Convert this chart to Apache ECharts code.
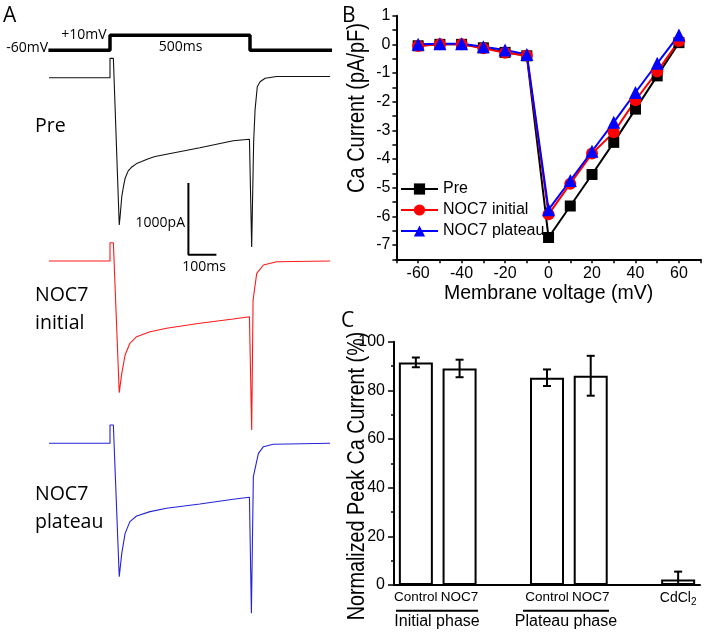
<!DOCTYPE html>
<html><head><meta charset="utf-8">
<script src="https://cdn.jsdelivr.net/npm/echarts@6/dist/echarts.min.js"></script>
<style>html,body{margin:0;padding:0;background:#fff}#chart{width:705px;height:634px}</style>
</head><body><div id="chart"></div>
<script>
// ---------- Panel A: voltage protocol ----------
const stepTime = [-220, 0, 0, 500, 500, 793];
const stepVoltage = [-60, -60, 10, 10, -60, -60];

// ---------- Panel A: current traces (ms, pA relative to holding) ----------
const preTime = [-218, 0, 0, 12, 33, 36, 42, 48, 54, 65, 78, 95, 113, 137, 161, 202, 321, 440, 498, 506, 513, 518, 526, 536, 554, 595, 786];
const preCurrent = [0, 0, 270, 270, -2055, -1939, -1660, -1521, -1403, -1300, -1245, -1198, -1170, -1130, -1100, -1068, -976, -879, -859, -2360, -900, -453, -126, -56, -8, 17, 17];

const initialTime = [-218, 0, 0, 12, 33, 42, 54, 71, 95, 143, 202, 321, 440, 498, 506, 511, 524, 548, 595, 786];
const initialCurrent = [0, 0, 255, 255, -1837, -1567, -1311, -1148, -1056, -986, -939, -869, -809, -777, -2358, -544, -172, -56, -10, 0];

const plateauTime = [-218, 0, 0, 12, 33, 42, 54, 71, 95, 143, 202, 321, 440, 498, 505, 512, 530, 548, 583, 786];
const plateauCurrent = [0, 0, 255, 255, -1860, -1535, -1256, -1093, -1014, -953, -907, -847, -781, -753, -2372, -465, -140, -47, -14, 0];

// scale bar: 1000 pA / 100 ms
const scaleBarTime = [280, 280, 380];
const scaleBarCurrent = [-1470, -2470, -2470];

// ---------- Panel B: I-V ----------
const ivVoltage = [-60, -50, -40, -30, -20, -10, 0, 10, 20, 30, 40, 50, 60];
const ivPre = [-0.05, 0, 0, -0.12, -0.28, -0.40, -6.74, -5.64, -4.54, -3.42, -2.26, -1.10, 0.06];
const ivInitial = [-0.06, 0, 0, -0.14, -0.29, -0.39, -5.93, -4.86, -3.81, -3.07, -1.95, -0.95, 0.12];
const ivPlateau = [0, 0.02, 0.02, -0.08, -0.20, -0.35, -5.77, -4.75, -3.73, -2.72, -1.68, -0.66, 0.33];
const ivNames = ['Pre', 'NOC7 initial', 'NOC7 plateau'];

// ---------- Panel C: normalized peak ----------
const barCategories = ['Control', 'NOC7', '', 'Control', 'NOC7', '', 'CdCl2'];
const barValues = [91.5, 89.0, null, 85.2, 86.0, null, 2.3];
const barErrors = [2.0, 3.6, null, 3.4, 8.2, null, 3.2];
const groupLabels = ['Initial phase', 'Plateau phase'];

const RF = 'Liberation Sans';
const AF = 'Open Sans';

const zip = (a, b) => a.map((v, i) => [v, b[i]]);

const chart = echarts.init(document.getElementById('chart'), null, {renderer: 'canvas'});

const hiddenX = (g) => ({type: 'value', gridIndex: g, min: -250, max: 800, show: false});
const traceY = (g) => ({type: 'value', gridIndex: g, min: -2500, max: 500, show: false});

const errorData = [];
barValues.forEach((v, i) => { if (v != null) errorData.push([i, v - barErrors[i], v + barErrors[i]]); });

const option = {
  animation: false,
  backgroundColor: '#fff',
  grid: [
    {left: 40, top: 33.2, width: 294, height: 21.43},
    {left: 40, top: 41.86, width: 294, height: 215.05},
    {left: 40, top: 225.16, width: 294, height: 215.05},
    {left: 40, top: 407.46, width: 294, height: 215.05},
    {left: 396.4, top: 15.7, width: 304.3, height: 243.6},
    {left: 394, top: 341.7, width: 306, height: 243.3}
  ],
  xAxis: [
    hiddenX(0), hiddenX(1), hiddenX(2), hiddenX(3),
    {
      type: 'value', gridIndex: 4, min: -70, max: 70, interval: 10,
      axisLine: {onZero: false, lineStyle: {color: '#000', width: 2}},
      axisTick: {length: 4, lineStyle: {color: '#000', width: 1.5}},
      splitLine: {show: false},
      axisLabel: {margin: 6, color: '#000', fontSize: 16, fontFamily: RF,
        formatter: v => (v % 20 === 0 && Math.abs(v) <= 60) ? String(v) : ''},
      name: 'Membrane voltage (mV)', nameLocation: 'middle', nameGap: 24,
      nameTextStyle: {color: '#000', fontSize: 19.5, fontFamily: RF}
    },
    {
      type: 'category', gridIndex: 5, data: barCategories, boundaryGap: true,
      axisLine: {lineStyle: {color: '#000', width: 2}},
      axisTick: {show: false},
      axisLabel: {margin: 5, color: '#000', fontSize: 13.5, fontFamily: RF, interval: 0,
        formatter: v => v === 'CdCl2' ? '{n|CdCl}{s|2}' : v,
        rich: {
          n: {fontSize: 14, fontFamily: RF, color: '#000'},
          s: {fontSize: 10, fontFamily: RF, color: '#000', padding: [7, 0, 0, 0]}
        }}
    }
  ],
  yAxis: [
    {type: 'value', gridIndex: 0, min: -80, max: 20, show: false},
    traceY(1), traceY(2), traceY(3),
    {
      type: 'value', gridIndex: 4, min: -7.5, max: 1, interval: 0.5,
      axisLine: {show: true, onZero: false, lineStyle: {color: '#000', width: 2}},
      axisTick: {show: true, length: 4, lineStyle: {color: '#000', width: 1.5}},
      splitLine: {show: false},
      axisLabel: {margin: 6, color: '#000', fontSize: 16, fontFamily: RF,
        formatter: v => Number.isInteger(v) ? String(v) : ''}
    },
    {
      type: 'value', gridIndex: 5, min: 0, max: 100, interval: 20,
      axisLine: {show: true, lineStyle: {color: '#000', width: 2}},
      axisTick: {show: true, length: 6, lineStyle: {color: '#000', width: 1.5}},
      minorTick: {show: true, splitNumber: 2, length: 3, lineStyle: {color: '#000', width: 1.5}},
      splitLine: {show: false},
      axisLabel: {margin: 9, color: '#000', fontSize: 16, fontFamily: RF}
    }
  ],
  legend: {
    data: ivNames, left: 400, top: 181, orient: 'vertical', padding: 0,
    itemWidth: 37, itemHeight: 14, itemGap: 5,
    textStyle: {fontSize: 16, fontFamily: RF, color: '#000'}
  },
  series: [
    {type: 'line', xAxisIndex: 0, yAxisIndex: 0, data: zip(stepTime, stepVoltage), symbol: 'none',
      lineStyle: {color: '#000', width: 3.5}, clip: false},
    {type: 'line', xAxisIndex: 1, yAxisIndex: 1, data: zip(preTime, preCurrent), symbol: 'none',
      lineStyle: {color: '#111', width: 1.1}, clip: false},
    {type: 'line', xAxisIndex: 1, yAxisIndex: 1, data: zip(scaleBarTime, scaleBarCurrent), symbol: 'none',
      lineStyle: {color: '#000', width: 2}, clip: false},
    {type: 'line', xAxisIndex: 2, yAxisIndex: 2, data: zip(initialTime, initialCurrent), symbol: 'none',
      lineStyle: {color: '#ff1a1a', width: 1.1}, clip: false},
    {type: 'line', xAxisIndex: 3, yAxisIndex: 3, data: zip(plateauTime, plateauCurrent), symbol: 'none',
      lineStyle: {color: '#2424d8', width: 1.1}, clip: false},
    {name: ivNames[0], type: 'line', xAxisIndex: 4, yAxisIndex: 4, data: zip(ivVoltage, ivPre),
      symbol: 'rect', symbolSize: 11, color: '#000', lineStyle: {width: 2}, itemStyle: {color: '#000'}},
    {name: ivNames[1], type: 'line', xAxisIndex: 4, yAxisIndex: 4, data: zip(ivVoltage, ivInitial),
      symbol: 'circle', symbolSize: 12, color: '#ff0000', lineStyle: {width: 2}, itemStyle: {color: '#ff0000'}},
    {name: ivNames[2], type: 'line', xAxisIndex: 4, yAxisIndex: 4, data: zip(ivVoltage, ivPlateau),
      symbol: 'triangle', symbolSize: 13, color: '#0000ff', lineStyle: {width: 2}, itemStyle: {color: '#0000ff'}},
    {type: 'bar', xAxisIndex: 5, yAxisIndex: 5, data: barValues, barWidth: 34,
      itemStyle: {color: '#fff', borderColor: '#000', borderWidth: 2}},
    {type: 'custom', xAxisIndex: 5, yAxisIndex: 5, data: errorData, encode: {x: 0, y: [1, 2]}, z: 5,
      renderItem: function (params, api) {
        const x = api.value(0), lo = api.value(1), hi = api.value(2);
        const pHi = api.coord([x, hi]);
        const pLo = api.coord([x, Math.max(lo, 0)]);
        const h = 4;
        const st = {stroke: '#000', lineWidth: 2};
        const ch = [
          {type: 'line', shape: {x1: pHi[0], y1: pHi[1], x2: pLo[0], y2: pLo[1]}, style: st},
          {type: 'line', shape: {x1: pHi[0] - h, y1: pHi[1], x2: pHi[0] + h, y2: pHi[1]}, style: st}
        ];
        if (lo >= 0) ch.push({type: 'line', shape: {x1: pLo[0] - h, y1: pLo[1], x2: pLo[0] + h, y2: pLo[1]}, style: st});
        return {type: 'group', children: ch};
      }}
  ],
  graphic: [
    // panel letters
    {type: 'text', x: 3, y: 16, style: {text: 'A', fontSize: 21, fontFamily: AF, fill: '#000', align: 'left', verticalAlign: 'middle'}},
    {type: 'text', x: 342, y: 16, style: {text: 'B', fontSize: 21, fontFamily: AF, fill: '#000', align: 'left', verticalAlign: 'middle'}},
    {type: 'text', x: 341, y: 321, style: {text: 'C', fontSize: 21, fontFamily: AF, fill: '#000', align: 'left', verticalAlign: 'middle'}},
    // protocol labels
    {type: 'text', x: 48, y: 48.5, style: {text: '-60mV', fontSize: 14, fontFamily: AF, fill: '#000', align: 'right', verticalAlign: 'middle'}},
    {type: 'text', x: 84, y: 35, style: {text: '+10mV', fontSize: 14, fontFamily: AF, fill: '#000', align: 'center', verticalAlign: 'middle'}},
    {type: 'text', x: 180.5, y: 47, style: {text: '500ms', fontSize: 14, fontFamily: AF, fill: '#000', align: 'center', verticalAlign: 'middle'}},
    {type: 'text', x: 185, y: 223.5, style: {text: '1000pA', fontSize: 14, fontFamily: AF, fill: '#000', align: 'right', verticalAlign: 'middle'}},
    {type: 'text', x: 204, y: 267.5, style: {text: '100ms', fontSize: 14, fontFamily: AF, fill: '#000', align: 'center', verticalAlign: 'middle'}},
    // trace labels
    {type: 'text', x: 35, y: 126, style: {text: 'Pre', fontSize: 19.5, fontFamily: AF, fill: '#000', align: 'left', verticalAlign: 'middle'}},
    {type: 'text', x: 35, y: 295.5, style: {text: 'NOC7', fontSize: 19.5, fontFamily: AF, fill: '#000', align: 'left', verticalAlign: 'middle'}},
    {type: 'text', x: 35, y: 323, style: {text: 'initial', fontSize: 19.5, fontFamily: AF, fill: '#000', align: 'left', verticalAlign: 'middle'}},
    {type: 'text', x: 35, y: 494, style: {text: 'NOC7', fontSize: 19.5, fontFamily: AF, fill: '#000', align: 'left', verticalAlign: 'middle'}},
    {type: 'text', x: 35, y: 522, style: {text: 'plateau', fontSize: 19.5, fontFamily: AF, fill: '#000', align: 'left', verticalAlign: 'middle'}},
    // panel B / C y-axis titles (condensed like the original)
    {type: 'text', x: 358, y: 108, rotation: Math.PI / 2, scaleX: 0.85, style: {text: 'Ca Current (pA/pF)', fontSize: 23.5, fontFamily: RF, fill: '#000', align: 'center', verticalAlign: 'middle'}},
    {type: 'text', x: 358, y: 476, rotation: Math.PI / 2, scaleX: 0.84, style: {text: 'Normalized Peak Ca Current (%)', fontSize: 23.5, fontFamily: RF, fill: '#000', align: 'center', verticalAlign: 'middle'}},
    // group brackets
    {type: 'line', shape: {x1: 396, y1: 610.7, x2: 478, y2: 610.7}, style: {stroke: '#000', lineWidth: 2}},
    {type: 'line', shape: {x1: 523, y1: 610.7, x2: 609, y2: 610.7}, style: {stroke: '#000', lineWidth: 2}},
    {type: 'text', x: 437, y: 622, style: {text: groupLabels[0], fontSize: 16, fontFamily: RF, fill: '#000', align: 'center', verticalAlign: 'middle'}},
    {type: 'text', x: 566, y: 622, style: {text: groupLabels[1], fontSize: 16, fontFamily: RF, fill: '#000', align: 'center', verticalAlign: 'middle'}}
  ]
};
chart.setOption(option);
</script>
</body></html>
